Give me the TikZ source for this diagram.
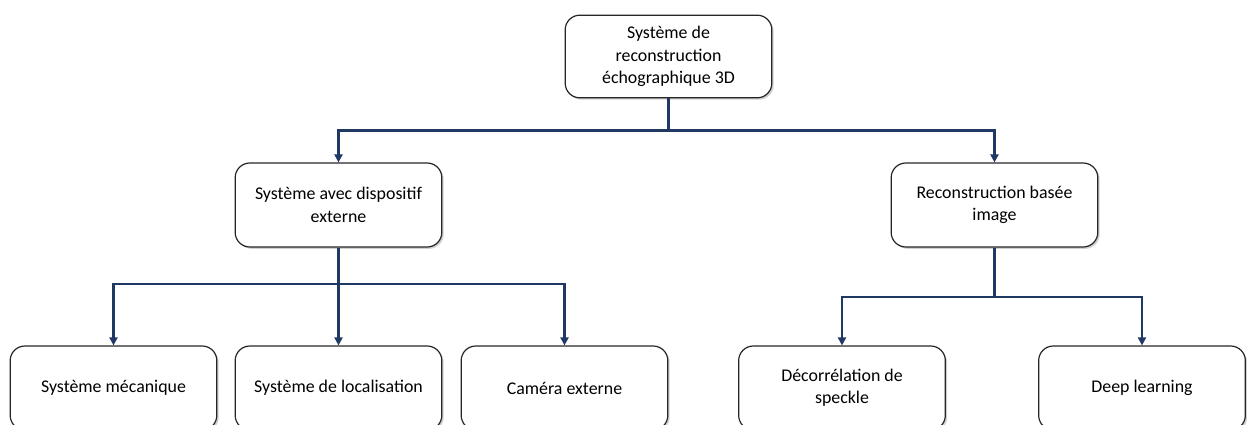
\documentclass[tikz,border=0pt]{standalone}
\usepackage{fontspec}
\setmainfont{Carlito}
\usetikzlibrary{arrows.meta, shadows}

\definecolor{linkblue}{HTML}{203864}

\begin{document}
\begin{tikzpicture}[x=0.75pt, y=-0.75pt,
		box/.style={draw=black!85, line width=0.9pt, rounded corners=11pt, fill=white,
			minimum width=155pt, minimum height=63pt, align=center,
			font=\fontsize{13.4}{16.8}\selectfont,
			drop shadow={shadow xshift=1.4pt, shadow yshift=-1.4pt, fill=black!30, opacity=0.6}},
		link/.style={draw=linkblue, line width=1.6pt, -{Triangle[length=6pt, width=6pt]}}]
	
	% Frame of the picture (pixels of the reference)
	\useasboundingbox (0,0) rectangle (1247,425);
	\clip (0,0) rectangle (1247,425);
	
	% Top level
	\node[box, minimum height=62pt] (root) at (668.5,56.5) {Système de\\reconstruction\\échographique 3D};
	
	% Second level
	\node[box] (ext) at (338.5,205) {Système avec dispositif\\externe};
	\node[box] (img) at (994.5,205) {Reconstruction basée\\image};
	
	% Third level
	\node[box] (meca) at (113.5,388) {Système mécanique};
	\node[box] (loca) at (338.5,388) {Système de localisation};
	\node[box] (cam) at (564.5,388) {Caméra externe};
	\node[box] (decor) at (842,388) {Décorrélation de\\speckle};
	\node[box] (deep) at (1142,388) {Deep learning};
	
	% Connectors
	\draw[link] (root.south) -- ++(0,32) -| (ext.north);
	\draw[link] (root.south) -- ++(0,32) -| (img.north);
	
	\draw[link] (ext.south) -- ++(0,36) -| (meca.north);
	\draw[link] (ext.south) -- (loca.north);
	\draw[link] (ext.south) -- ++(0,36) -| (cam.north);
	
	\draw[link] (img.south) -- ++(0,49) -| (decor.north);
	\draw[link] (img.south) -- ++(0,49) -| (deep.north);
	
\end{tikzpicture}
\end{document}
